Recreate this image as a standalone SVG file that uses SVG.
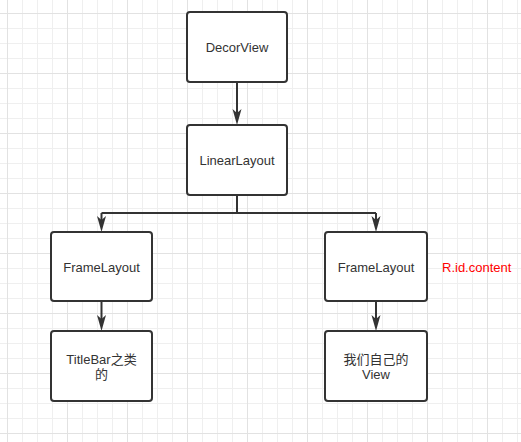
<svg xmlns="http://www.w3.org/2000/svg" width="521" height="442" viewBox="0 0 521 442">
  <style>
    .box { fill: #ffffff; stroke: #333333; stroke-width: 2; }
    .lbl { font-family: "Liberation Sans", "Noto Sans CJK SC", sans-serif; font-size: 13px; fill: #333333; text-anchor: middle; }
    .edge { fill: none; stroke: #333333; stroke-width: 2; }
    .note { font-family: "Liberation Sans", "Noto Sans CJK SC", sans-serif; font-size: 13px; fill: #ff0000; }
  </style>
  <defs>
    <pattern id="grid" x="7" y="13" width="60" height="60" patternUnits="userSpaceOnUse">
      <rect x="0" y="0" width="60" height="60" fill="#ffffff"/>
      <g fill="#efefef">
        <rect x="15" y="0" width="1" height="60"/>
        <rect x="30" y="0" width="1" height="60"/>
        <rect x="45" y="0" width="1" height="60"/>
        <rect x="0" y="15" width="60" height="1"/>
        <rect x="0" y="30" width="60" height="1"/>
        <rect x="0" y="45" width="60" height="1"/>
      </g>
      <g fill="#e2e2e2">
        <rect x="0" y="0" width="1" height="60"/>
        <rect x="0" y="0" width="60" height="1"/>
      </g>
    </pattern>
    <marker id="arr" viewBox="0 0 16 10" refX="4" refY="5" markerWidth="16" markerHeight="10" markerUnits="userSpaceOnUse" orient="auto">
      <path d="M0,0.5 L16,5 L0,9.5 L4,5 Z" fill="#333333"/>
    </marker>
  </defs>
  <rect x="0" y="0" width="521" height="442" fill="url(#grid)"/>

  <g id="connectors">
    <path class="edge" d="M237,82 L237,113" marker-end="url(#arr)"/>
    <path class="edge" d="M237,195 L237,213"/>
    <path class="edge" d="M101.5,213 L376,213"/>
    <path class="edge" d="M101.5,213 L101.5,220" marker-end="url(#arr)"/>
    <path class="edge" d="M376,213 L376,220" marker-end="url(#arr)"/>
    <path class="edge" d="M101.5,301 L101.5,319" marker-end="url(#arr)"/>
    <path class="edge" d="M376,301 L376,319" marker-end="url(#arr)"/>
  </g>

  <g id="decorview">
    <rect class="box" x="187" y="12" width="100" height="70" rx="3"/>
    <text class="lbl" x="237" y="51.5">DecorView</text>
  </g>
  <g id="linearlayout">
    <rect class="box" x="187" y="125" width="100" height="70" rx="3"/>
    <text class="lbl" x="237" y="165">LinearLayout</text>
  </g>
  <g id="framelayout-left">
    <rect class="box" x="51" y="232" width="101" height="69" rx="3"/>
    <text class="lbl" x="101.5" y="271.5">FrameLayout</text>
  </g>
  <g id="framelayout-right">
    <rect class="box" x="325" y="232" width="102" height="69" rx="3"/>
    <text class="lbl" x="376" y="271.5">FrameLayout</text>
  </g>
  <g id="note-content">
    <text class="note" x="442" y="271.5">R.id.content</text>
  </g>
  <g id="titlebar">
    <rect class="box" x="51" y="331" width="101" height="70" rx="3"/>
    <text class="lbl" x="101.5" y="363.5">TitleBar之类</text>
    <text class="lbl" x="101.5" y="378.5">的</text>
  </g>
  <g id="ownview">
    <rect class="box" x="325" y="331" width="102" height="70" rx="3"/>
    <text class="lbl" x="376" y="363.5">我们自己的</text>
    <text class="lbl" x="376" y="378.5">View</text>
  </g>
</svg>
